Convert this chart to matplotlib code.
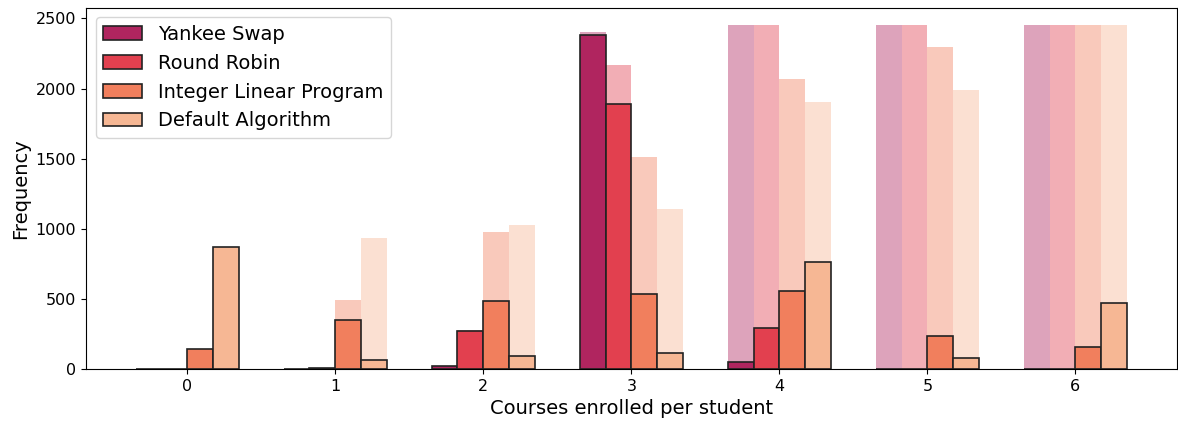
import numpy as np
import matplotlib.pyplot as plt

courses = [0, 1, 2, 3, 4, 5, 6]
algorithms = ["Yankee Swap", "Round Robin", "Integer Linear Program", "Default Algorithm"]
colors = ["#b0255f", "#e2404f", "#f17f5d", "#f6b794"]

# students per number of enrolled courses
yankee_swap = [0, 2, 20, 2383, 50, 0, 0]
round_robin = [0, 5, 273, 1887, 290, 0, 0]
integer_lp = [143, 352, 483, 535, 555, 232, 155]
default_alg = [870, 64, 93, 115, 763, 82, 468]
counts = [yankee_swap, round_robin, integer_lp, default_alg]

fig, ax = plt.subplots(figsize=(11.78, 4.21), dpi=100)
fig.subplots_adjust(left=0.073, right=0.999, top=0.982, bottom=0.1235)

x = np.array(courses)
w = 0.7 / len(algorithms)
for i, (name, c, vals) in enumerate(zip(algorithms, colors, counts)):
    pos = x - 0.35 + i * w
    # cumulative counts behind, faded
    ax.bar(pos, np.cumsum(vals), width=w, align="edge", color=c, alpha=0.42,
           linewidth=0, zorder=1)
    ax.bar(pos, vals, width=w, align="edge", color=c, edgecolor="#222222",
           linewidth=1.2, label=name, zorder=2)

ax.set_xticks(courses)
ax.tick_params(labelsize=11.5)
ax.set_xlabel("Courses enrolled per student", fontsize=14)
ax.set_ylabel("Frequency", fontsize=14)
ax.legend(loc="upper left", fontsize=14)

plt.savefig("out.png")
